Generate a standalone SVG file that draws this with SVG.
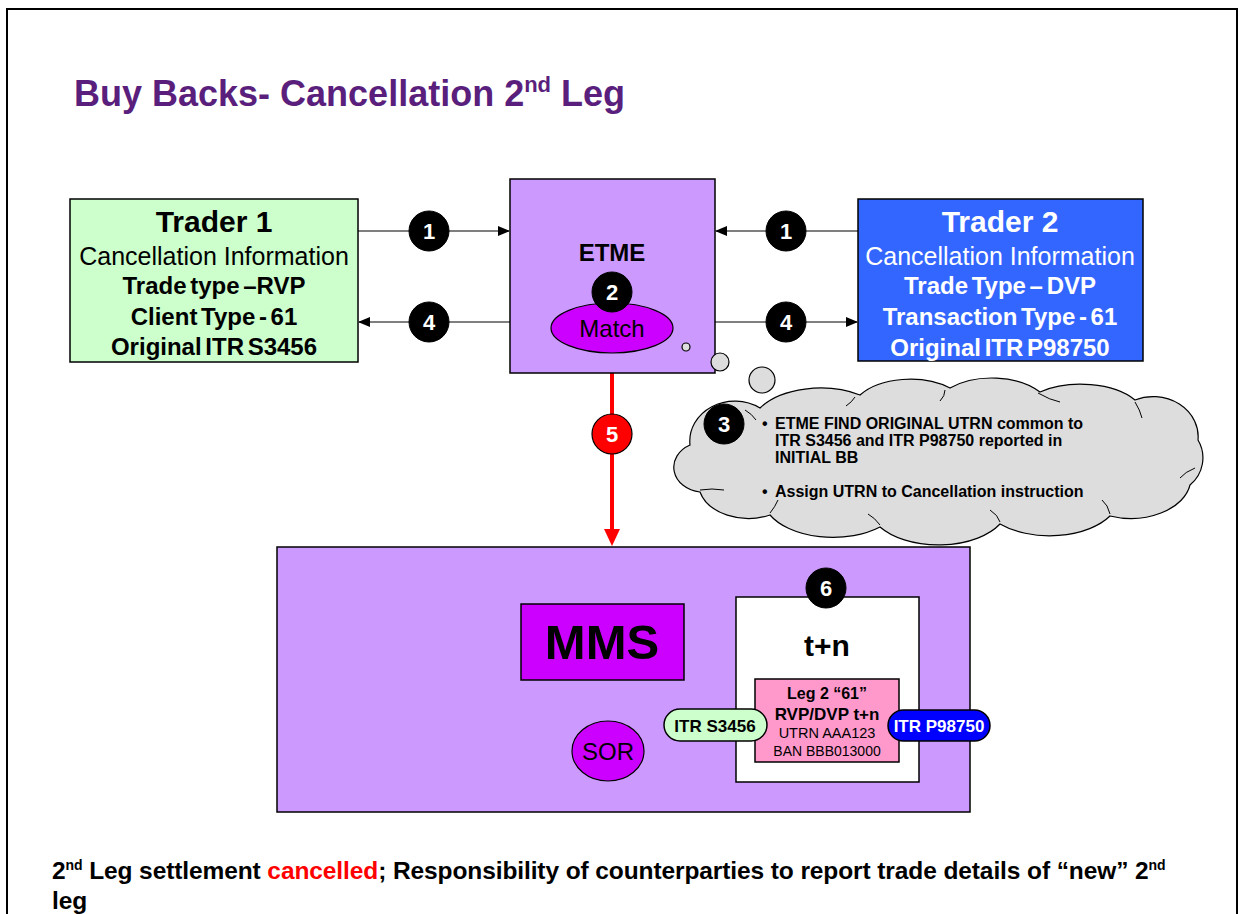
<svg xmlns="http://www.w3.org/2000/svg" width="1242" height="914" viewBox="0 0 1242 914">
<defs>
<style>
text{font-family:"Liberation Sans",Arial,sans-serif}
.b{font-weight:bold}
.c{text-anchor:middle}
.box{stroke:#000;stroke-width:1.5}
.num circle{fill:#000;stroke:#000}
.num text{fill:#fff;font-weight:bold;font-size:22px;text-anchor:middle}
.ln{stroke:#000;stroke-width:1.2;fill:none}
.bub{fill:#DDDDDD;stroke:#000;stroke-width:1.2}
.foot{font-weight:bold;font-size:24.5px;letter-spacing:-0.1px}
</style>
<marker id="ah" markerWidth="12" markerHeight="10" refX="11" refY="5" orient="auto" markerUnits="userSpaceOnUse">
<path d="M0,0 L12,5 L0,10 Z" fill="#000"/>
</marker>
</defs>
<rect x="0" y="0" width="1242" height="914" fill="#fff"/>
<path d="M7,914 V9 H1237 V914" fill="none" stroke="#000" stroke-width="2"/>

<text x="74" y="106" class="b" font-size="36" fill="#5A1F7C">Buy Backs- Cancellation 2<tspan font-size="22" dy="-14">nd</tspan><tspan dy="14"> Leg</tspan></text>

<g id="connectors">
<line class="ln" x1="358" y1="231" x2="509" y2="231" marker-end="url(#ah)"/>
<line class="ln" x1="858" y1="231" x2="716" y2="231" marker-end="url(#ah)"/>
<line class="ln" x1="510" y1="322" x2="359" y2="322" marker-end="url(#ah)"/>
<line class="ln" x1="715" y1="322" x2="857" y2="322" marker-end="url(#ah)"/>
<line x1="612" y1="373" x2="612" y2="530" stroke="#FF0000" stroke-width="4"/>
<path d="M604,529 L620,529 L612,546 Z" fill="#FF0000"/>
</g>

<g id="trader1">
<rect class="box" x="70" y="199" width="288" height="163" fill="#CCFFCC"/>
<text x="214" y="232" class="b c" font-size="30">Trader 1</text>
<text x="214" y="265" class="c" font-size="25">Cancellation Information</text>
<text x="214" y="294" class="b c" font-size="24" word-spacing="-3">Trade type –RVP</text>
<text x="214" y="325" class="b c" font-size="24" word-spacing="-3">Client Type - 61</text>
<text x="214" y="355" class="b c" font-size="24" word-spacing="-3">Original ITR S3456</text>
</g>

<g id="trader2">
<rect class="box" x="858" y="199" width="285" height="162" fill="#3366FF"/>
<text x="1000" y="232" class="b c" font-size="30" fill="#fff">Trader 2</text>
<text x="1000" y="265" class="c" font-size="25" fill="#fff">Cancellation Information</text>
<text x="1000" y="294" class="b c" font-size="24" fill="#fff" word-spacing="-3">Trade Type – DVP</text>
<text x="1000" y="325" class="b c" font-size="24" fill="#fff" word-spacing="-3">Transaction Type - 61</text>
<text x="1000" y="356" class="b c" font-size="24" fill="#fff" word-spacing="-3">Original ITR P98750</text>
</g>

<g id="etme">
<rect class="box" x="510" y="179" width="205" height="194" fill="#CC99FF"/>
<text x="612" y="261" class="b c" font-size="24">ETME</text>
<ellipse cx="612" cy="328" rx="61" ry="25" fill="#CC00FF" stroke="#000" stroke-width="1.2"/>
<text x="612" y="337" class="c" font-size="24">Match</text>
</g>

<g id="cloud">
<circle class="bub" cx="686" cy="347" r="4"/>
<circle class="bub" cx="720" cy="362" r="9"/>
<circle class="bub" cx="762" cy="380" r="13"/>
<path class="bub" d="M690,445 A45,40 0 0 1 760,408 A70,40 0 0 1 860,395 A60,35 0 0 1 950,388 A60,35 0 0 1 1040,392 A65,35 0 0 1 1135,400 A45,40 0 0 1 1198,440 A35,35 0 0 1 1190,485 A60,40 0 0 1 1110,516 A70,40 0 0 1 1000,524 A70,40 0 0 1 880,527 A70,40 0 0 1 770,515 A50,35 0 0 1 700,492 A30,25 0 0 1 690,445 Z"/>
<path d="M745,410 Q752,414 756,420 M855,397 Q852,402 846,406 M945,390 Q945,396 940,401 M1038,393 Q1050,400 1060,402 M1135,402 Q1140,410 1142,418 M1195,468 Q1185,472 1180,478 M1110,514 Q1108,505 1102,500 M1000,522 Q998,515 990,510 M880,525 Q875,518 868,514 M770,513 Q775,507 778,500 M700,490 Q712,488 724,490" fill="none" stroke="#000" stroke-width="1"/>
<text class="b" font-size="16">
<tspan x="762" y="429">•</tspan><tspan x="775" y="429">ETME FIND ORIGINAL  UTRN common to</tspan>
<tspan x="775" y="446">ITR S3456  and ITR P98750 reported in</tspan>
<tspan x="775" y="463">INITIAL BB</tspan>
<tspan x="762" y="497">•</tspan><tspan x="775" y="497">Assign UTRN to Cancellation instruction</tspan>
</text>
</g>

<g id="mms">
<rect class="box" x="277" y="547" width="693" height="265" fill="#CC99FF"/>
<rect class="box" x="521" y="604" width="163" height="76" fill="#CC00FF"/>
<text x="602" y="659" class="b c" font-size="49">MMS</text>
<ellipse cx="608" cy="751" rx="36" ry="30" fill="#CC00FF" stroke="#000" stroke-width="1.2"/>
<text x="608" y="760" class="c" font-size="24">SOR</text>
</g>

<g id="tn">
<rect class="box" x="736" y="597" width="183" height="185" fill="#fff"/>
<text x="827" y="656" class="b c" font-size="30">t+n</text>
<rect class="box" x="755" y="679" width="144" height="83" fill="#FF99CC"/>
<text x="827" y="699" class="b c" font-size="16">Leg 2  “61”</text>
<text x="827" y="720" class="b c" font-size="17">RVP/DVP t+n</text>
<text x="827" y="738" class="c" font-size="14.5">UTRN AAA123</text>
<text x="827" y="756" class="c" font-size="14">BAN BBB013000</text>
</g>

<g id="itr-s3456">
<rect class="box" x="664" y="709" width="103" height="32" rx="16" fill="#CCFFCC"/>
<text x="715" y="732" class="b c" font-size="17">ITR S3456</text>
</g>
<g id="itr-p98750">
<rect class="box" x="888" y="710" width="102" height="31" rx="15.5" fill="#0000FF"/>
<text x="939" y="732" class="b c" font-size="17" fill="#fff">ITR P98750</text>
</g>

<g class="num" id="n1a"><circle cx="429" cy="231" r="20"/><text x="429" y="239">1</text></g>
<g class="num" id="n1b"><circle cx="786" cy="231" r="20"/><text x="786" y="239">1</text></g>
<g class="num" id="n4a"><circle cx="429" cy="322" r="20"/><text x="429" y="330">4</text></g>
<g class="num" id="n4b"><circle cx="786" cy="322" r="20"/><text x="786" y="330">4</text></g>
<g class="num" id="n2"><circle cx="612" cy="292" r="20"/><text x="612" y="300">2</text></g>
<g class="num" id="n3"><circle cx="724" cy="424" r="20"/><text x="724" y="432">3</text></g>
<g class="num" id="n5"><circle cx="612" cy="434" r="20" style="fill:#FF0000;stroke:#000;stroke-width:1.2"/><text x="612" y="442">5</text></g>
<g class="num" id="n6"><circle cx="826" cy="588" r="20"/><text x="826" y="596">6</text></g>

<text class="foot" x="52" y="879">2<tspan font-size="14" dy="-9">nd</tspan><tspan dy="9"> Leg settlement </tspan><tspan fill="#FF0000">cancelled</tspan>; Responsibility of counterparties to report trade details of “new” 2<tspan font-size="14" dy="-9">nd</tspan></text>
<text class="foot" x="52" y="909">leg</text>
</svg>
